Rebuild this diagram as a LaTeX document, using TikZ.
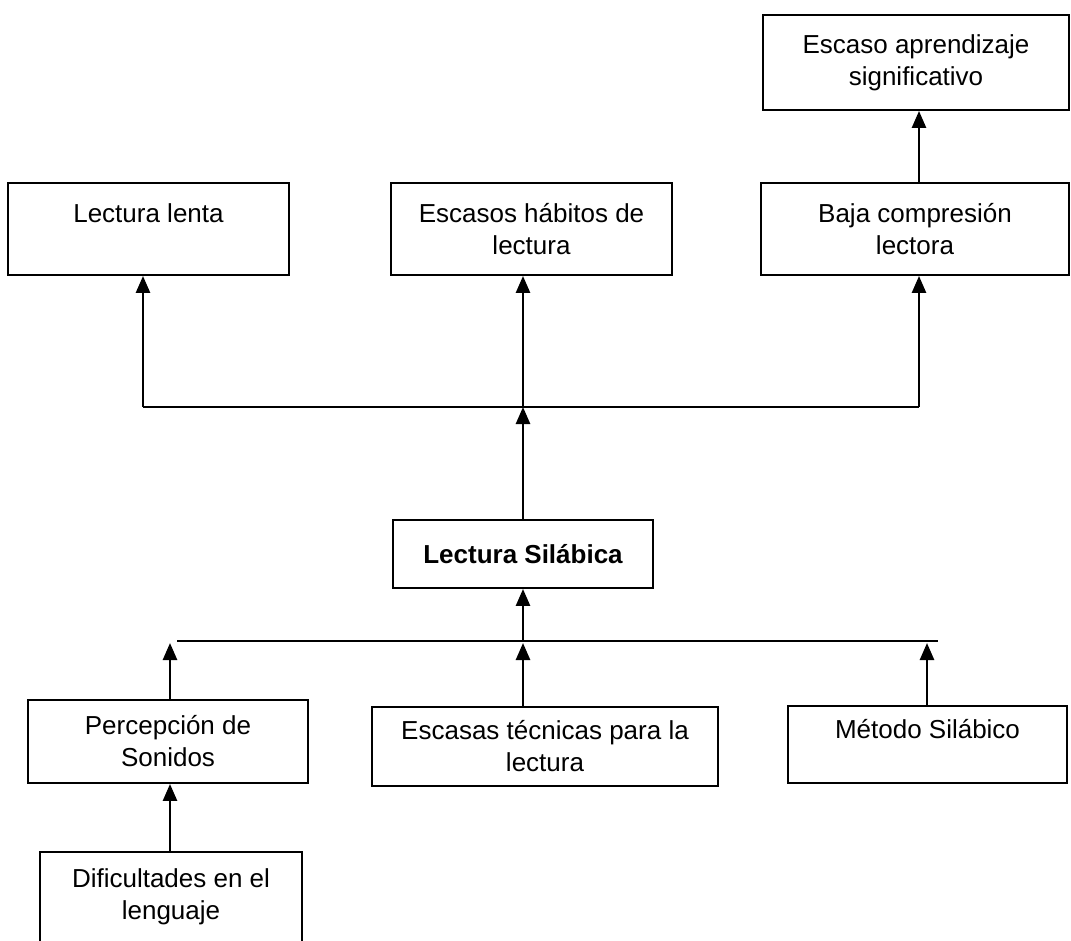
\documentclass[tikz,border=0pt]{standalone}
\usepackage{fontspec}
\setmainfont{Liberation Sans}
\usetikzlibrary{arrows.meta}

\begin{document}
\begin{tikzpicture}[x=1pt, y=-1pt,
  caja/.style={draw, line width=1.9pt, align=center, inner sep=0pt,
    font=\fontsize{26}{32}\selectfont},
  flecha/.style={line width=2.6pt, -{Triangle[length=17pt,width=14pt]}},
  linea/.style={line width=2.6pt}]
  \useasboundingbox (0,0) rectangle (1071,940);

  %% efectos
  \node[caja, minimum width=306pt, minimum height=95pt] (escaso) at (916,62.5) {Escaso aprendizaje\\significativo};
  \node[caja, minimum width=281pt, minimum height=92pt] (lenta) at (148.5,229) {Lectura lenta\\~};
  \node[caja, minimum width=281pt, minimum height=92pt] (habitos) at (531.5,229) {Escasos hábitos de\\lectura};
  \node[caja, minimum width=308pt, minimum height=92pt] (baja) at (915,229) {Baja compresión\\lectora};

  %% problema
  \node[caja, minimum width=260pt, minimum height=68pt] (silabica) at (523,554) {\bfseries Lectura Silábica};

  %% causas
  \node[caja, minimum width=280pt, minimum height=83pt] (percepcion) at (168,741.5) {Percepción de\\Sonidos};
  \node[caja, minimum width=346pt, minimum height=79pt] (tecnicas) at (545,746.5) {Escasas técnicas para la\\lectura};
  \node[caja, minimum width=279pt, minimum height=77pt] (metodo) at (927.5,744.5) {Método Silábico\\~};
  \node[caja, minimum width=262pt, minimum height=90pt] (dificultades) at (171,897) {Dificultades en el\\lenguaje};

  %% ramas de arriba
  \coordinate (t-lenta) at (143,407);
  \coordinate (t-habitos) at (523,407);
  \coordinate (t-baja) at (919,407);
  \draw[linea] (t-lenta) -- (t-baja);
  \foreach \n in {lenta, habitos, baja} {
    \draw[flecha] (t-\n) -- (t-\n |- \n.south);
  }
  \draw[flecha] (silabica.north) -- (silabica.north |- t-habitos);
  \draw[flecha] (baja.north -| t-baja) -- (escaso.south -| t-baja);

  %% ramas de abajo
  \coordinate (izq) at (177,641);
  \coordinate (der) at (938,641);
  \coordinate (b-percepcion) at (170,643);
  \coordinate (b-tecnicas) at (523,643);
  \coordinate (b-metodo) at (927,643);
  \draw[linea] (izq) -- (der);
  \foreach \n in {percepcion, tecnicas, metodo} {
    \draw[flecha] (\n.north -| b-\n) -- (b-\n);
  }
  \draw[flecha] (silabica.south |- izq) -- (silabica.south);
  \draw[flecha] (dificultades.north -| b-percepcion) -- (percepcion.south -| b-percepcion);
\end{tikzpicture}
\end{document}
